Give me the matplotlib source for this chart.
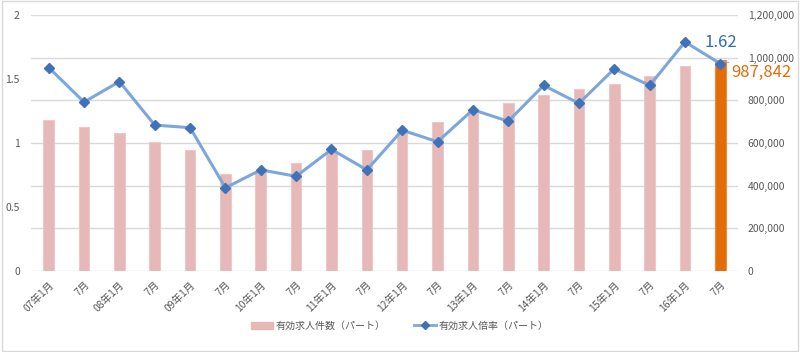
import numpy as np
import matplotlib
matplotlib.use('Agg')
import matplotlib.pyplot as plt
from matplotlib.lines import Line2D
from matplotlib.patches import Patch

plt.rcParams['font.family'] = ['Noto Sans CJK JP', 'DejaVu Sans']

labels = ['07年1月', '7月', '08年1月', '7月', '09年1月', '7月', '10年1月', '7月',
          '11年1月', '7月', '12年1月', '7月', '13年1月', '7月', '14年1月', '7月',
          '15年1月', '7月', '16年1月', '7月']
openings = [706000, 675000, 645000, 606000, 566000, 453000, 466000, 508000,
            559000, 566000, 652000, 698000, 742000, 789000, 825000, 853000,
            878000, 916000, 962000, 987842]
ratio = [1.59, 1.32, 1.48, 1.14, 1.12, 0.65, 0.79, 0.74, 0.95, 0.79,
         1.10, 1.01, 1.26, 1.17, 1.45, 1.31, 1.58, 1.45, 1.79, 1.62]

fig = plt.figure(figsize=(8, 3.52), dpi=100)
ax = fig.add_axes([0.03875, 0.2301, 0.8838, 0.7272])
ax2 = ax.twinx()

x = np.arange(len(labels))
bar_colors = ['#E6B8B7'] * (len(labels) - 1) + ['#E36C09']
edge_colors = ['#EBC9C8'] * (len(labels) - 1) + ['#F08A3C']
ax2.bar(x, openings, width=0.3, color=bar_colors, edgecolor=edge_colors, linewidth=0.8, zorder=2)
ax2.set_ylim(0, 1200000)
ax2.set_yticks(np.arange(0, 1200001, 200000))
ax2.set_yticklabels([f'{v:,}' for v in range(0, 1200001, 200000)])

ax.set_zorder(ax2.get_zorder() + 1)
ax.patch.set_visible(False)
ax.plot(x, ratio, color='#7BA7DD', linewidth=2.2, marker='D', markersize=5,
        markerfacecolor='#3F72B8', markeredgecolor='#3F72B8', zorder=3)
ax.set_ylim(0, 2)
ax.set_yticks([0, 0.5, 1, 1.5, 2])
ax.set_yticklabels(['0', '0.5', '1', '1.5', '2'])
ax.set_xlim(-0.5, len(labels) - 0.5)
ax.set_xticks(x)
ax.set_xticklabels(labels, rotation=45, ha='right', rotation_mode='anchor')

for a in (ax, ax2):
    for s in a.spines.values():
        s.set_visible(False)
    a.tick_params(length=0, colors='#595959', labelsize=7.5)
ax.tick_params(axis='x', pad=6)
ax.tick_params(axis='y', pad=8)
ax2.tick_params(axis='y', pad=7)

# gridlines
ax2.set_axisbelow(True)
ax2.yaxis.grid(True, color='#D9D9D9', linewidth=1)

ax.annotate('1.62', xy=(x[-1], ratio[-1]), xytext=(0, 9), textcoords='offset points',
            ha='center', va='bottom', color='#2E6BB5', fontsize=12)
ax2.annotate('987,842', xy=(x[-1], openings[-1]), xytext=(8, -8.5), textcoords='offset points',
             ha='left', va='center', color='#E36C09', fontsize=12,
             arrowprops=dict(arrowstyle='-', color='#A6A6A6', lw=0.8,
                             shrinkA=0, shrinkB=0))

handles = [Patch(facecolor='#E6B8B7', edgecolor='#E6B8B7'),
           Line2D([0], [0], color='#7BA7DD', linewidth=2, marker='D', markersize=4,
                  markerfacecolor='#3F72B8', markeredgecolor='#3F72B8')]
fig.legend(handles, ['有効求人件数（パート）', '有効求人倍率（パート）'],
           loc='center', bbox_to_anchor=(0.5, 0.075), ncol=2, frameon=False,
           fontsize=7.2, labelcolor='#595959', handlelength=2.2, handletextpad=0.3,
           columnspacing=2.8)

border = plt.Rectangle((0.002, 0.003), 0.996, 0.994, transform=fig.transFigure,
                       fill=False, edgecolor='#D9D9D9', linewidth=1)
fig.patches.append(border)

fig.savefig('out.png', dpi=100)
